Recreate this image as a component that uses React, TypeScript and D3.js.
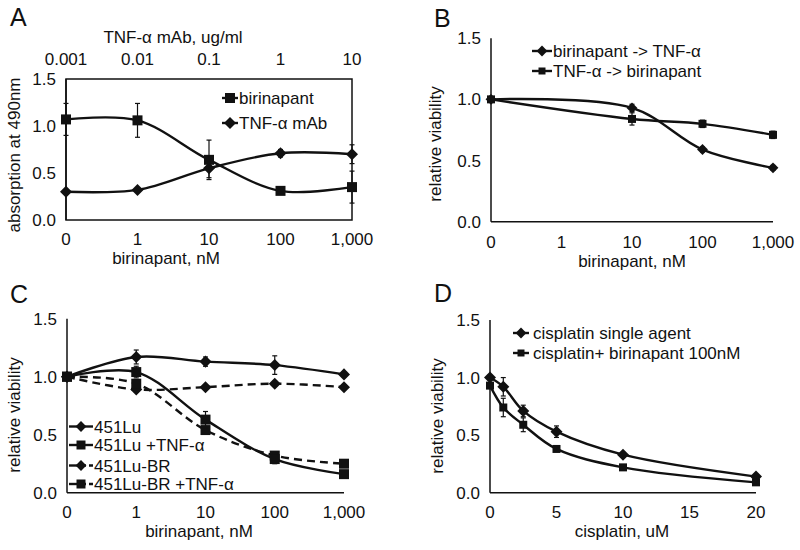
import * as d3 from 'd3';

// ── Data ────────────────────────────────────────────────────────────────
const BIR_DOSES = ['0', '1', '10', '100', '1,000'];
const MAB_DOSES = ['0.001', '0.01', '0.1', '1', '10'];

const A_BIR = [1.07, 1.06, 0.64, 0.31, 0.35];
const A_BIR_ERR = [0.17, 0.18, 0.21, 0.03, 0.17];
const A_MAB = [0.3, 0.32, 0.55, 0.71, 0.7];
const A_MAB_ERR = [0.02, 0.02, 0.1, 0.04, 0.1];

const B_DOSES = ['0', '10', '100', '1,000'];
const B_BIR_TNF = [1.0, 0.93, 0.59, 0.44];
const B_BIR_TNF_ERR = [0.01, 0.03, 0.02, 0.02];
const B_TNF_BIR = [1.0, 0.84, 0.8, 0.71];
const B_TNF_BIR_ERR = [0.01, 0.05, 0.03, 0.03];

const C_LU = [1.0, 1.17, 1.13, 1.1, 1.02];
const C_LU_ERR = [0.03, 0.06, 0.04, 0.08, 0.02];
const C_LU_TNF = [1.0, 1.04, 0.63, 0.29, 0.16];
const C_LU_TNF_ERR = [0.03, 0.05, 0.07, 0.04, 0.03];
const C_BR = [1.0, 0.89, 0.91, 0.94, 0.91];
const C_BR_ERR = [0.02, 0.02, 0.02, 0.02, 0.02];
const C_BR_TNF = [1.0, 0.94, 0.54, 0.32, 0.25];
const C_BR_TNF_ERR = [0.02, 0.03, 0.03, 0.03, 0.03];

const D_X = [0, 1, 2.5, 5, 10, 20];
const D_SINGLE = [1.0, 0.92, 0.71, 0.53, 0.33, 0.14];
const D_SINGLE_ERR = [0.02, 0.08, 0.05, 0.05, 0.02, 0.02];
const D_COMBO = [0.93, 0.74, 0.59, 0.38, 0.22, 0.09];
const D_COMBO_ERR = [0.02, 0.08, 0.06, 0.02, 0.02, 0.02];

const Y_TICKS = [0, 0.5, 1.0, 1.5];

const FONT = '"Liberation Sans", Arial, sans-serif';
const INK = '#111';
const TICK_FS = 17;
const TITLE_FS = 17;
const LEGEND_FS = 17;
const LETTER_FS = 25;

type Shape = 'square' | 'diamond';

function Marker({ x, y, shape, size }: { x: number; y: number; shape: Shape; size: number }) {
  const d = d3.symbol(d3.symbolSquare, size * size)()!;
  return (
    <path
      d={d}
      transform={`translate(${x},${y})${shape === 'diamond' ? ' rotate(45) scale(0.85)' : ''}`}
      fill={INK}
    />
  );
}

interface Series {
  xs: number[];
  ys: number[];
  errs: number[];
  shape: Shape;
  dashed?: boolean;
}

function SeriesMarks({ s, y, size }: { s: Series; y: d3.ScaleLinear<number, number>; size: number }) {
  const line = d3
    .line<number>()
    .x((_, i) => s.xs[i])
    .y(v => y(v))
    .curve(d3.curveCatmullRom.alpha(0.5));
  return (
    <g>
      <path
        d={line(s.ys)!}
        fill="none"
        stroke={INK}
        strokeWidth={2.4}
        strokeDasharray={s.dashed ? '8,5' : undefined}
      />
      {s.ys.map((v, i) => {
        const x = s.xs[i];
        const y1 = y(v + s.errs[i]);
        const y2 = y(v - s.errs[i]);
        return (
          <g key={i} stroke={INK} strokeWidth={1.2}>
            <line x1={x} x2={x} y1={y1} y2={y2} />
            <line x1={x - 2.5} x2={x + 2.5} y1={y1} y2={y1} />
            <line x1={x - 2.5} x2={x + 2.5} y1={y2} y2={y2} />
          </g>
        );
      })}
      {s.ys.map((v, i) => (
        <Marker key={'m' + i} x={s.xs[i]} y={y(v)} shape={s.shape} size={size} />
      ))}
    </g>
  );
}

interface LegendProps {
  mx: number;
  y: number;
  half: number;
  tx: number;
  shape: Shape;
  label: string;
  dashed?: boolean;
  size: number;
}

function LegendItem({ mx, y, half, tx, shape, label, dashed, size }: LegendProps) {
  return (
    <g>
      <line x1={mx - half} x2={mx} y1={y} y2={y} stroke={INK} strokeWidth={2.4} />
      <line x1={mx} x2={mx + half} y1={y} y2={y} stroke={INK} strokeWidth={2.4} strokeDasharray={dashed ? '5,3' : undefined} />
      <Marker x={mx} y={y} shape={shape} size={size} />
      <text x={tx} y={y + 6} fontSize={LEGEND_FS}>{label}</text>
    </g>
  );
}

function YAxis({ x, y, label, labelX, labelY }: { x: number; y: d3.ScaleLinear<number, number>; label: string; labelX: number; labelY: number }) {
  const [r0, r1] = y.range();
  return (
    <g>
      <line x1={x} x2={x} y1={r0} y2={r1} stroke={INK} strokeWidth={1.5} />
      {Y_TICKS.map(t => (
        <text key={t} x={x - 10} y={y(t) + 6} textAnchor="end" fontSize={TICK_FS}>
          {t.toFixed(1)}
        </text>
      ))}
      <text
        transform={`translate(${labelX},${labelY}) rotate(-90)`}
        textAnchor="middle"
        fontSize={TITLE_FS}
      >
        {label}
      </text>
    </g>
  );
}

export default function App() {
  // Panel A
  const xA = d3.scalePoint<string>().domain(BIR_DOSES).range([66, 352]);
  const xAtop = d3.scalePoint<string>().domain(MAB_DOSES).range([66, 352]);
  const yA = d3.scaleLinear().domain([0, 1.5]).range([220, 79]);
  const xsA = BIR_DOSES.map(d => xA(d)!);

  // Panel B
  const xB = d3.scalePoint<string>().domain(BIR_DOSES).range([491, 773]);
  const yB = d3.scaleLinear().domain([0, 1.5]).range([221.7, 38.2]);
  const xsB = B_DOSES.map(d => xB(d)!);

  // Panel C
  const xC = d3.scalePoint<string>().domain(BIR_DOSES).range([67, 344]);
  const yC = d3.scaleLinear().domain([0, 1.5]).range([492.7, 318.7]);
  const xsC = BIR_DOSES.map(d => xC(d)!);

  // Panel D
  const xD = d3.scaleLinear().domain([0, 20]).range([490, 756]);
  const yD = d3.scaleLinear().domain([0, 1.5]).range([492.7, 320]);
  const xsD = D_X.map(v => xD(v));

  return (
    <svg
      width={800}
      height={550}
      style={{ position: 'fixed', left: 0, top: 0, background: '#fff' }}
      fontFamily={FONT}
      fill={INK}
    >
      <rect width={800} height={550} fill="#fff" />

      {/* ── A ── */}
      <text x={10} y={26} fontSize={LETTER_FS}>A</text>
      <text x={173} y={43} textAnchor="middle" fontSize={TITLE_FS}>TNF-α mAb, ug/ml</text>
      {MAB_DOSES.map(d => (
        <text key={d} x={xAtop(d)} y={65} textAnchor="middle" fontSize={TICK_FS}>{d}</text>
      ))}
      <rect x={66} y={79} width={286} height={141} fill="none" stroke={INK} strokeWidth={1.5} />
      <YAxis x={66} y={yA} label="absorption at 490nm" labelX={20} labelY={155} />
      {BIR_DOSES.map(d => (
        <text key={d} x={xA(d)} y={245} textAnchor="middle" fontSize={TICK_FS}>{d}</text>
      ))}
      <text x={166} y={264} textAnchor="middle" fontSize={TITLE_FS}>birinapant, nM</text>
      <SeriesMarks s={{ xs: xsA, ys: A_MAB, errs: A_MAB_ERR, shape: 'diamond' }} y={yA} size={10} />
      <SeriesMarks s={{ xs: xsA, ys: A_BIR, errs: A_BIR_ERR, shape: 'square' }} y={yA} size={10} />
      <LegendItem mx={230} half={8} tx={239} y={98} shape="square" label="birinapant" size={10} />
      <LegendItem mx={230} half={8} tx={239} y={123} shape="diamond" label="TNF-α mAb" size={10} />

      {/* ── B ── */}
      <text x={434} y={27} fontSize={LETTER_FS}>B</text>
      <YAxis x={491} y={yB} label="relative viability" labelX={441} labelY={144} />
      <line x1={491} x2={773} y1={221.7} y2={221.7} stroke={INK} strokeWidth={1.5} />
      {BIR_DOSES.map(d => (
        <text key={d} x={xB(d)} y={248} textAnchor="middle" fontSize={TICK_FS}>{d}</text>
      ))}
      <text x={632} y={267} textAnchor="middle" fontSize={TITLE_FS}>birinapant, nM</text>
      <SeriesMarks s={{ xs: xsB, ys: B_TNF_BIR, errs: B_TNF_BIR_ERR, shape: 'square' }} y={yB} size={8} />
      <SeriesMarks s={{ xs: xsB, ys: B_BIR_TNF, errs: B_BIR_TNF_ERR, shape: 'diamond' }} y={yB} size={9} />
      <LegendItem mx={542} half={10} tx={553} y={51} shape="diamond" label="birinapant -> TNF-α" size={9} />
      <LegendItem mx={542} half={10} tx={553} y={71} shape="square" label="TNF-α -> birinapant" size={7} />

      {/* ── C ── */}
      <text x={10} y={303} fontSize={LETTER_FS}>C</text>
      <YAxis x={67} y={yC} label="relative viability" labelX={20} labelY={415} />
      <line x1={67} x2={344} y1={492.7} y2={492.7} stroke={INK} strokeWidth={1.5} />
      {BIR_DOSES.map(d => (
        <text key={d} x={xC(d)} y={517.5} textAnchor="middle" fontSize={TICK_FS}>{d}</text>
      ))}
      <text x={199} y={536.5} textAnchor="middle" fontSize={TITLE_FS}>birinapant, nM</text>
      <SeriesMarks s={{ xs: xsC, ys: C_BR, errs: C_BR_ERR, shape: 'diamond', dashed: true }} y={yC} size={10} />
      <SeriesMarks s={{ xs: xsC, ys: C_BR_TNF, errs: C_BR_TNF_ERR, shape: 'square', dashed: true }} y={yC} size={10} />
      <SeriesMarks s={{ xs: xsC, ys: C_LU, errs: C_LU_ERR, shape: 'diamond' }} y={yC} size={10} />
      <SeriesMarks s={{ xs: xsC, ys: C_LU_TNF, errs: C_LU_TNF_ERR, shape: 'square' }} y={yC} size={10} />
      <LegendItem mx={81} half={12} tx={94} y={426.5} shape="diamond" label="451Lu" size={9} />
      <LegendItem mx={81} half={12} tx={94} y={445} shape="square" label="451Lu +TNF-α" size={9} />
      <LegendItem mx={81} half={12} tx={94} y={465.5} shape="diamond" label="451Lu-BR" dashed size={9} />
      <LegendItem mx={81} half={12} tx={94} y={484} shape="square" label="451Lu-BR +TNF-α" dashed size={9} />

      {/* ── D ── */}
      <text x={434} y={302} fontSize={LETTER_FS}>D</text>
      <YAxis x={490} y={yD} label="relative viability" labelX={443} labelY={416} />
      <line x1={490} x2={756} y1={492.7} y2={492.7} stroke={INK} strokeWidth={1.5} />
      {xD.ticks(4).map(t => (
        <text key={t} x={xD(t)} y={517.5} textAnchor="middle" fontSize={TICK_FS}>{t}</text>
      ))}
      <text x={622} y={536.5} textAnchor="middle" fontSize={TITLE_FS}>cisplatin, uM</text>
      <SeriesMarks s={{ xs: xsD, ys: D_COMBO, errs: D_COMBO_ERR, shape: 'square' }} y={yD} size={8} />
      <SeriesMarks s={{ xs: xsD, ys: D_SINGLE, errs: D_SINGLE_ERR, shape: 'diamond' }} y={yD} size={10} />
      <LegendItem mx={521} half={8} tx={533} y={333} shape="diamond" label="cisplatin single agent" size={9} />
      <LegendItem mx={521} half={8} tx={533} y={353} shape="square" label="cisplatin+ birinapant 100nM" size={7} />
    </svg>
  );
}
